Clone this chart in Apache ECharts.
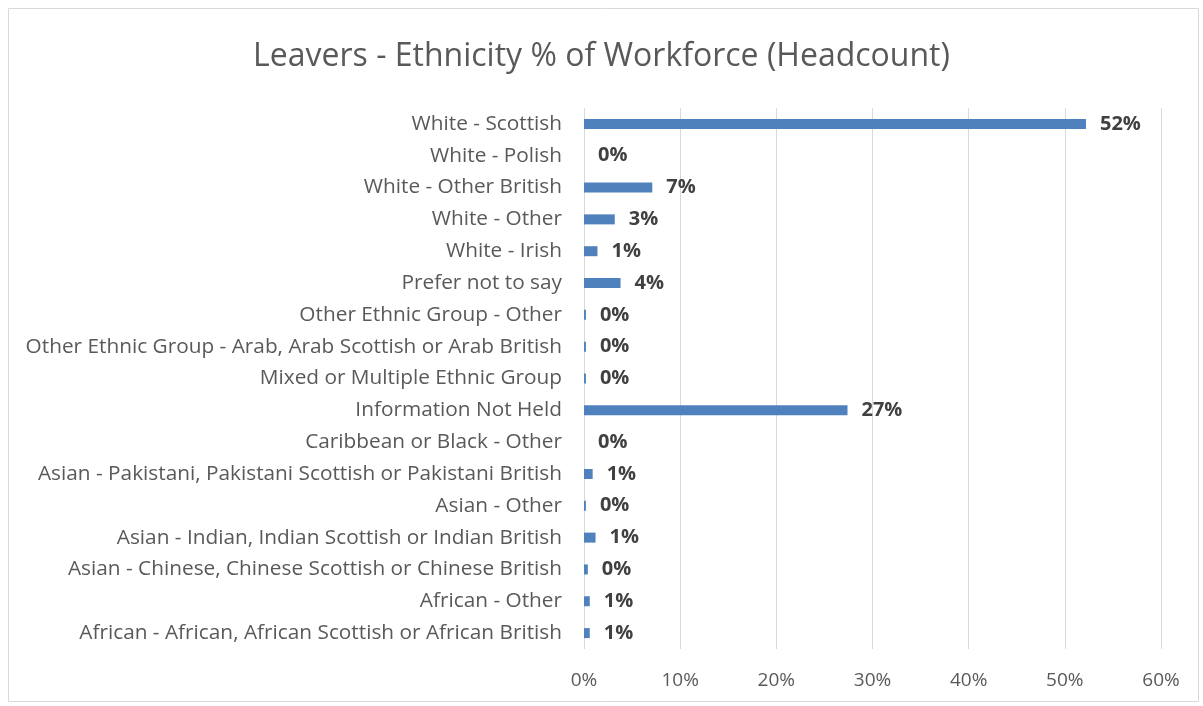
<!DOCTYPE html>
<html><head><meta charset="utf-8">
<script src="https://cdn.jsdelivr.net/npm/echarts@6/dist/echarts.min.js"></script>
<style>html,body{margin:0;padding:0;background:#fff}#c{width:1203px;height:706px}</style>
</head><body><div id="c"></div>
<script>
const categories = [
  "White - Scottish",
  "White - Polish",
  "White - Other British",
  "White - Other",
  "White - Irish",
  "Prefer not to say",
  "Other Ethnic Group - Other",
  "Other Ethnic Group - Arab, Arab Scottish or Arab British",
  "Mixed or Multiple Ethnic Group",
  "Information Not Held",
  "Caribbean or Black - Other",
  "Asian - Pakistani, Pakistani Scottish or Pakistani British",
  "Asian - Other",
  "Asian - Indian, Indian Scottish or Indian British",
  "Asian - Chinese, Chinese Scottish or Chinese British",
  "African - Other",
  "African - African, African Scottish or African British"
];
const values = [52.2, 0, 7.1, 3.2, 1.4, 3.8, 0.2, 0.2, 0.2, 27.4, 0, 0.9, 0.2, 1.2, 0.4, 0.6, 0.6];
const xTicks = [0, 10, 20, 30, 40, 50, 60];
const title = "Leavers - Ethnicity % of Workforce (Headcount)";

const font = "'Open Sans', 'Noto Sans', sans-serif";
const chart = echarts.init(document.getElementById('c'), null, {renderer: 'canvas'});
chart.setOption({
  animation: false,
  backgroundColor: '#fff',
  graphic: [{type: 'rect', shape: {x: 8.5, y: 8.5, width: 1190, height: 693}, style: {fill: 'none', stroke: '#d9d9d9', lineWidth: 1}, silent: true}],
  title: {
    text: title, left: 'center', top: 36,
    textStyle: {fontFamily: font, fontSize: 32, fontWeight: 'normal', color: '#595959'}
  },
  grid: {left: 584, right: 42, top: 108, bottom: 57, containLabel: false},
  xAxis: {
    type: 'value', min: xTicks[0], max: xTicks[xTicks.length - 1], interval: 10,
    axisLine: {show: false}, axisTick: {show: false},
    splitLine: {lineStyle: {color: '#d9d9d9', width: 1}},
    axisLabel: {formatter: v => v + '%', margin: 22, fontFamily: font, fontSize: 19, color: '#595959'}
  },
  yAxis: {
    type: 'category', data: categories, inverse: true,
    axisLine: {show: false}, axisTick: {show: false},
    axisLabel: {margin: 22, fontFamily: font, fontSize: 20.8, color: '#595959'}
  },
  series: [{
    type: 'bar', data: values, barWidth: 10,
    itemStyle: {color: '#4f81bd'},
    label: {show: true, position: 'right', distance: 14, formatter: p => Math.round(p.value) + '%',
      fontFamily: font, fontSize: 20, fontWeight: 'bold', color: '#404040'}
  }]
});
</script></body></html>
